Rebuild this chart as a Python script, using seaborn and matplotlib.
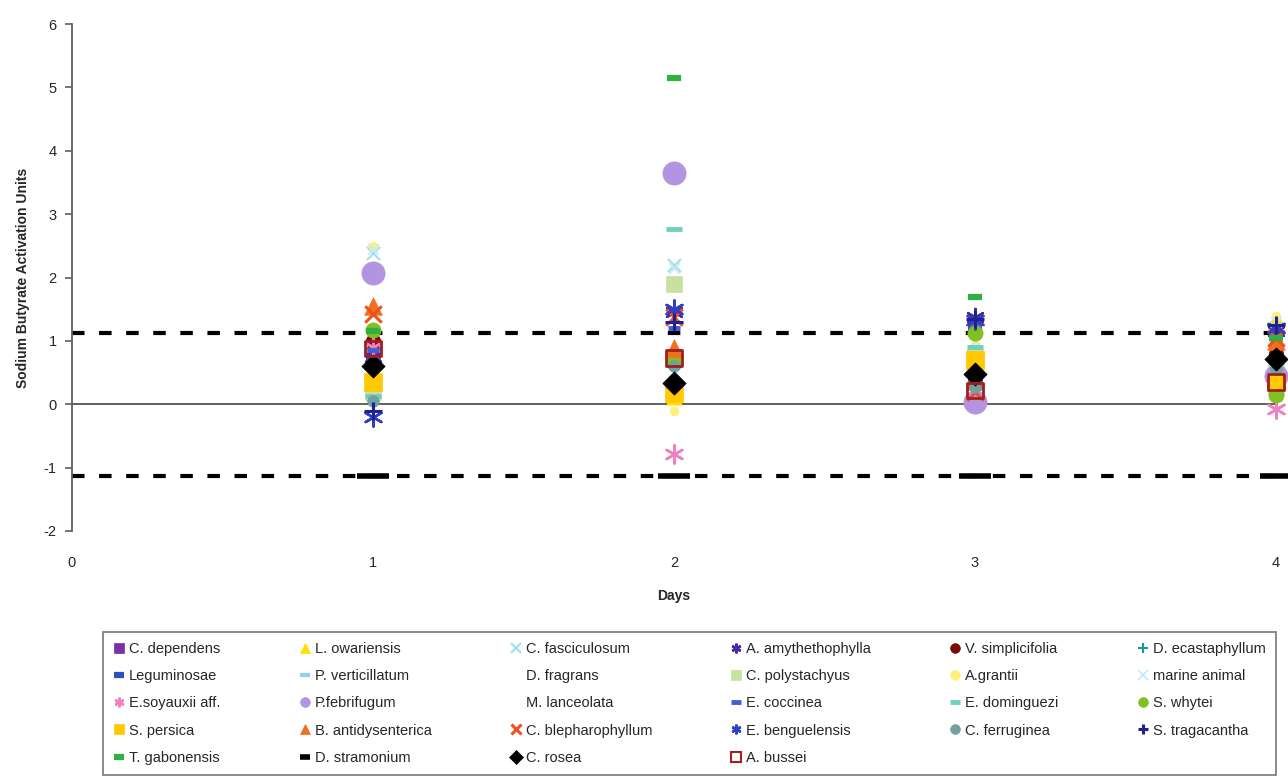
import matplotlib
matplotlib.use("Agg")
import matplotlib.pyplot as plt
import seaborn as sns
import pandas as pd

sns.set_style("white")
plt.rcParams["font.family"] = ["Liberation Sans", "DejaVu Sans"]
plt.rcParams["axes.unicode_minus"] = False

days = [1, 2, 3, 4]

# legend order (row by row, as in the original)
species = [
    "C. dependens", "L. owariensis", "C. fasciculosum", "A. amythethophylla", "V. simplicifolia", "D. ecastaphyllum",
    "Leguminosae", "P. verticillatum", "D. fragrans", "C. polystachyus", "A.grantii", "marine animal",
    "E.soyauxii aff.", "P.febrifugum", "M. lanceolata", "E. coccinea", "E. dominguezi", "S. whytei",
    "S. persica", "B. antidysenterica", "C. blepharophyllum", "E. benguelensis", "C. ferruginea", "S. tragacantha",
    "T. gabonensis", "D. stramonium", "C. rosea", "A. bussei",
]

# activation units, day 1..4
c_dependens = [0.80, 0.70, 0.35, 0.60]
l_owariensis = [0.45, 0.12, 0.85, 1.35]
c_fasciculosum = [2.38, 2.20, 1.30, 1.20]
a_amythethophylla = [0.75, 1.45, 1.38, 1.15]
v_simplicifolia = [1.00, 0.65, 0.45, 0.80]
d_ecastaphyllum = [0.10, 0.60, 0.30, 0.90]
leguminosae = [0.70, 3.55, 1.20, 0.90]
p_verticillatum = [0.15, 0.80, 0.60, 0.50]
d_fragrans = [0.50, 0.40, 0.60, 0.50]
c_polystachyus = [0.20, 1.90, 0.75, 0.60]
a_grantii = [2.50, -0.10, 0.95, 1.40]
marine_animal = [2.45, 2.15, 1.00, 1.30]
e_soyauxii = [0.90, -0.78, 0.20, -0.08]
p_febrifugum = [2.07, 3.65, 0.03, 0.45]
m_lanceolata = [0.40, 0.30, 0.50, 0.30]
e_coccinea = [0.85, 1.20, 1.25, 1.00]
e_dominguezi = [0.13, 2.77, 0.90, 0.20]
s_whytei = [1.17, 0.70, 1.12, 0.15]
s_persica = [0.35, 0.17, 0.70, 0.35]
b_antidysenterica = [1.55, 0.88, 0.40, 1.00]
c_blepharophyllum = [1.42, 1.38, 0.20, 1.05]
e_benguelensis = [-0.20, 1.50, 1.33, 1.20]
c_ferruginea = [0.05, 0.60, 0.28, 0.55]
s_tragacantha = [-0.10, 1.30, 1.35, 1.25]
t_gabonensis = [1.15, 5.15, 1.69, 1.05]
d_stramonium = [-1.13, -1.13, -1.13, -1.13]
c_rosea = [0.60, 0.33, 0.48, 0.72]
a_bussei = [0.88, 0.73, 0.22, 0.35]

threshold = 1.13

values = [
    c_dependens, l_owariensis, c_fasciculosum, a_amythethophylla, v_simplicifolia, d_ecastaphyllum,
    leguminosae, p_verticillatum, d_fragrans, c_polystachyus, a_grantii, marine_animal,
    e_soyauxii, p_febrifugum, m_lanceolata, e_coccinea, e_dominguezi, s_whytei,
    s_persica, b_antidysenterica, c_blepharophyllum, e_benguelensis, c_ferruginea, s_tragacantha,
    t_gabonensis, d_stramonium, c_rosea, a_bussei,
]

ast = (6, 2, 0)
# marker, colour, size, linewidth
styles = {
    "C. dependens": ("s", "#7a2fa8", 110, 0),
    "L. owariensis": ("^", "#ffe000", 120, 0),
    "C. fasciculosum": ("x", "#9fe0ea", 90, 1.5),
    "A. amythethophylla": (ast, "#4a2aa0", 150, 1.8),
    "V. simplicifolia": ("o", "#7a0a0a", 110, 0),
    "D. ecastaphyllum": ("+", "#1a9a80", 100, 1.5),
    "Leguminosae": ("_", "#2f4fc0", 90, 4.5),
    "P. verticillatum": ("_", "#90d0f0", 90, 3),
    "D. fragrans": ("o", "#fff6cc", 10, 0),
    "C. polystachyus": ("s", "#c8e0a0", 130, 0),
    "A.grantii": ("o", "#fff07a", 40, 0),
    "marine animal": ("x", "#c4e8f8", 60, 1.2),
    "E.soyauxii aff.": (ast, "#f080c0", 170, 1.8),
    "P.febrifugum": ("o", "#b394e0", 280, 0),
    "M. lanceolata": ("o", "#fbf4dd", 10, 0),
    "E. coccinea": ("_", "#4060d0", 70, 3.5),
    "E. dominguezi": ("_", "#70d0c0", 140, 3.5),
    "S. whytei": ("o", "#80c020", 120, 0),
    "S. persica": ("s", "#ffc800", 150, 0),
    "B. antidysenterica": ("^", "#f07020", 160, 0),
    "C. blepharophyllum": ("x", "#f05020", 140, 2.2),
    "E. benguelensis": (ast, "#3040c0", 170, 1.8),
    "C. ferruginea": ("o", "#70a0a0", 70, 0),
    "S. tragacantha": ("+", "#202090", 150, 2.2),
    "T. gabonensis": ("_", "#30b040", 90, 4.5),
    "D. stramonium": ("_", "#000000", 560, 4),
    "C. rosea": ("D", "#000000", 140, 0),
    "A. bussei": ("s", "#a02020", 120, 2),
}

fig = plt.figure(figsize=(12.88, 7.76), dpi=100)
ax = fig.add_axes([72 / 1288, 1 - 531 / 776, (1276 - 72) / 1288, (531 - 24) / 776])

ax.axhline(0, color="#606060", lw=1.4, zorder=1)
for yv in (threshold, -threshold):
    ax.axhline(yv, color="black", lw=3, ls=(0, (3, 3.5)), zorder=1)

for name, vals in zip(species, values):
    mk, col, sz, lw = styles[name]
    df = pd.DataFrame({"day": days, "value": vals})
    if name == "A. bussei":
        kw = dict(facecolor="none", edgecolor=col, linewidth=lw)
    elif lw > 0:
        kw = dict(color=col, linewidth=lw)
    else:
        kw = dict(color=col, edgecolor=col, linewidth=0.5)
    sns.scatterplot(data=df, x="day", y="value", marker=mk, s=sz, ax=ax,
                    clip_on=False, zorder=3, legend=False, **kw)

ax.set_xlim(0, 4)
ax.set_ylim(-2, 6)
ax.set_xticks([0, 1, 2, 3, 4])
ax.set_yticks(range(-2, 7))
for s in ("top", "right", "bottom"):
    ax.spines[s].set_visible(False)
ax.spines["left"].set_color("#606060")
ax.spines["left"].set_linewidth(1.3)
ax.tick_params(axis="y", left=True, length=5, width=1.2, color="#606060", labelsize=10.5, pad=6)
ax.tick_params(axis="x", bottom=False, length=0, labelsize=10.5, pad=18)
ax.set_xlabel("Days", fontsize=10, fontweight="bold", labelpad=14)
ax.set_ylabel("Sodium Butyrate Activation Units", fontsize=10, fontweight="bold", labelpad=10)

# reorder so matplotlib's column-wise fill gives the row-wise order
ncol = 6
order = []
for c in range(ncol):
    for r in range(5):
        i = r * ncol + c
        if i < len(species):
            order.append(species[i])
leg_handles = []
for name in order:
    mk, col, sz, lw = styles[name]
    if name in ("D. fragrans", "M. lanceolata"):
        h = plt.Line2D([], [], ls="", marker="")
    else:
        h = plt.Line2D([], [], ls="", marker=mk, markersize=7,
                       markerfacecolor="none" if name == "A. bussei" else col,
                       markeredgecolor=col,
                       markeredgewidth=1.5 if name == "A. bussei" else (lw if lw > 0 else 0.5))
    leg_handles.append(h)
top = 1 - 632 / 776
leg = fig.legend(leg_handles, order, ncol=ncol, loc="upper left", mode="expand",
                 bbox_to_anchor=(103 / 1288, top - 0.001, 1173 / 1288, 0.001), fontsize=10.5,
                 frameon=True, fancybox=False, edgecolor="#555555",
                 handlelength=0.8, handletextpad=0.3,
                 labelspacing=0.9, borderpad=0.7, borderaxespad=0)
leg.get_frame().set_linewidth(1.2)

fig.savefig("out.png", dpi=100)
